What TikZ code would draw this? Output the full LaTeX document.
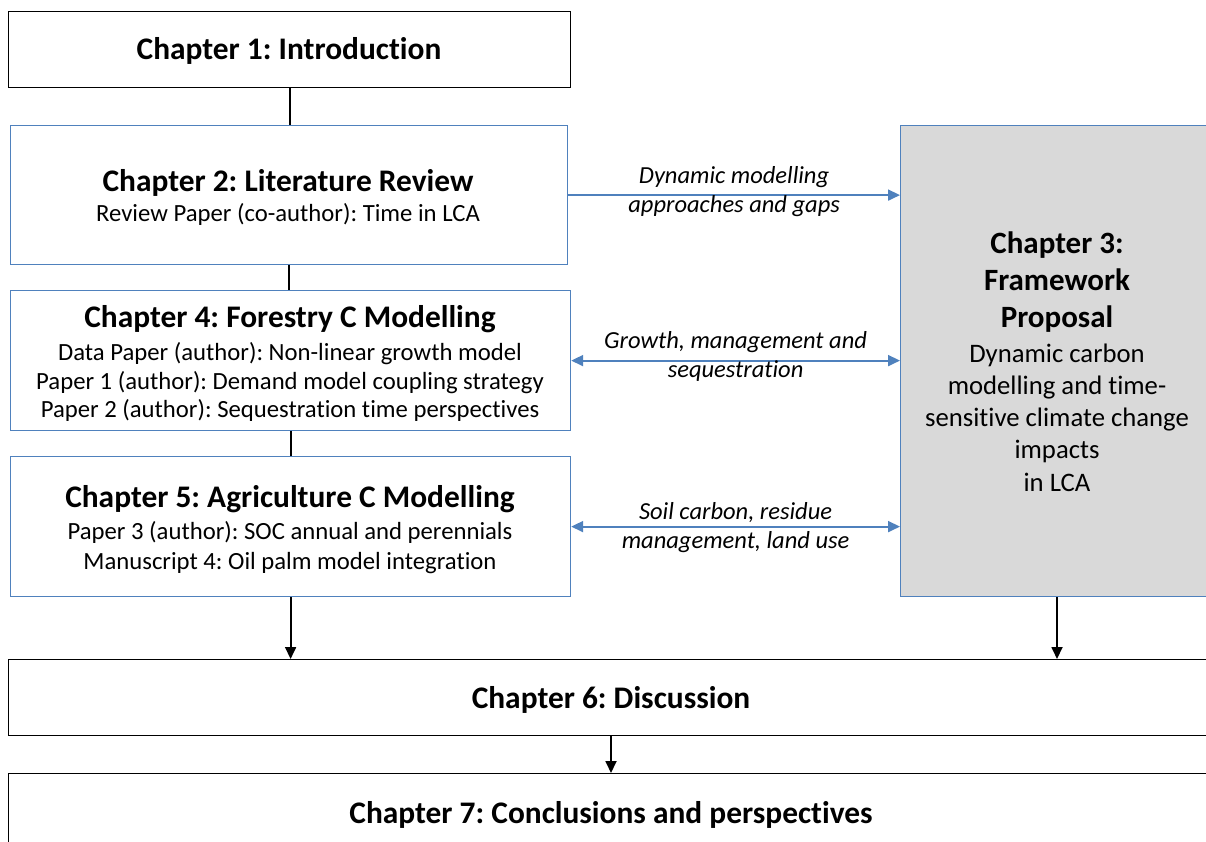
\documentclass[tikz,border=0pt]{standalone}
\usepackage{fontspec}
\setmainfont{Carlito}[Ligatures=CommonOff]
\usetikzlibrary{arrows.meta}
\definecolor{obl}{RGB}{79,129,189}
\definecolor{ogr}{RGB}{217,217,217}
\frenchspacing
\begin{document}
\begin{tikzpicture}[x=1pt,y=-1pt,
  kbox/.style={draw=black, line width=1.4pt, fill=white, anchor=north west, inner sep=0},
  bbox/.style={draw=obl, line width=1.2pt, fill=white, anchor=north west, inner sep=0},
  ttl/.style={font=\fontsize{31.4}{36}\selectfont\bfseries, inner sep=0},
  bod/.style={font=\fontsize{24.7}{28.5}\selectfont, align=center, inner sep=0},
  lbl/.style={font=\fontsize{24.5}{29}\selectfont\itshape, align=center, inner sep=0},
  karrow/.style={draw=black, line width=1.8pt, -{Triangle[length=12pt,width=11pt]}},
  kline/.style={draw=black, line width=1.8pt},
  barrow/.style={draw=obl, line width=1.8pt, -{Triangle[length=12pt,width=11pt]}},
  bdarrow/.style={draw=obl, line width=1.8pt, {Triangle[length=12pt,width=11pt]}-{Triangle[length=12pt,width=11pt]}}
]
\useasboundingbox (0,0) rectangle (1206,842);
\clip (0,0) rectangle (1206,842);
\fill[white] (0,0) rectangle (1206,842);

% boxes
\node[kbox, minimum width=562, minimum height=76] (c1) at (8,11) {};
\node[bbox, minimum width=557, minimum height=139] (c2) at (10,125) {};
\node[bbox, minimum width=560, minimum height=140] (c4) at (10,290) {};
\node[bbox, minimum width=560, minimum height=140] (c5) at (10,456) {};
\node[bbox, fill=ogr, minimum width=330, minimum height=471] (c3) at (900,125) {};
\node[kbox, minimum width=1230, minimum height=76] (c6) at (8,659) {};
\node[kbox, minimum width=1230, minimum height=110] (c7) at (8,773) {};

% texts
\node[ttl] (t1) at (289,51) {Chapter 1: Introduction};
\node[ttl] (t2) at (288,183) {Chapter 2: Literature Review};
\node[bod] (s2) at (288,214) {Review Paper (co-author): Time in LCA};
\node[ttl] (t4) at (290,319) {Chapter 4: Forestry C Modelling};
\node[bod] (s4) at (290,382) {Data Paper (author): Non-linear growth model\\Paper 1 (author): Demand model coupling strategy\\Paper 2 (author): Sequestration time perspectives};
\node[ttl] (t5) at (290,499) {Chapter 5: Agriculture C Modelling};
\node[bod, font=\fontsize{24.7}{30}\selectfont] (s5) at (290,548) {Paper 3 (author): SOC annual and perennials\\Manuscript 4: Oil palm model integration};
\node[ttl, align=center, font=\fontsize{31}{37}\selectfont\bfseries] (t3) at (1057,282.5) {Chapter 3:\\Framework\\Proposal};
\node[bod, font=\fontsize{26.7}{32.25}\selectfont] (s3) at (1057,417.5) {Dynamic carbon\\modelling and time-\\sensitive climate change\\impacts\\in LCA};
\node[ttl] (t6) at (611,700) {Chapter 6: Discussion};
\node[ttl] (t7) at (611,814.5) {Chapter 7: Conclusions and perspectives};

% black connectors
\draw[kline] (c1.south) -- (c1.south |- c2.north);
\draw[kline] (c2.south) -- (c2.south |- c4.north);
\draw[kline] (c4.south) -- (c4.south |- c5.north);
\draw[karrow] (c5.south) -- (c5.south |- c6.north);
\coordinate (c3b) at ([xshift=157pt]c3.south west);
\draw[karrow] (c3b) -- (c3b |- c6.north);
\coordinate (c6b) at ([xshift=603pt]c6.south west);
\draw[karrow] (c6b) -- (c6b |- c7.north);

% blue connectors
\draw[barrow] (c2.east) -- (c2.east -| c3.west)
  node[lbl, midway, yshift=4pt] (l1) {Dynamic modelling\\approaches and gaps};
\draw[bdarrow] (c4.east) -- (c4.east -| c3.west)
  node[lbl, midway, yshift=4.5pt] (l2) {Growth, management and\\sequestration};
\draw[bdarrow] (c5.east) -- (c5.east -| c3.west)
  node[lbl, midway, yshift=-1pt] (l3) {Soil carbon, residue\\management, land use};
\end{tikzpicture}
\end{document}
